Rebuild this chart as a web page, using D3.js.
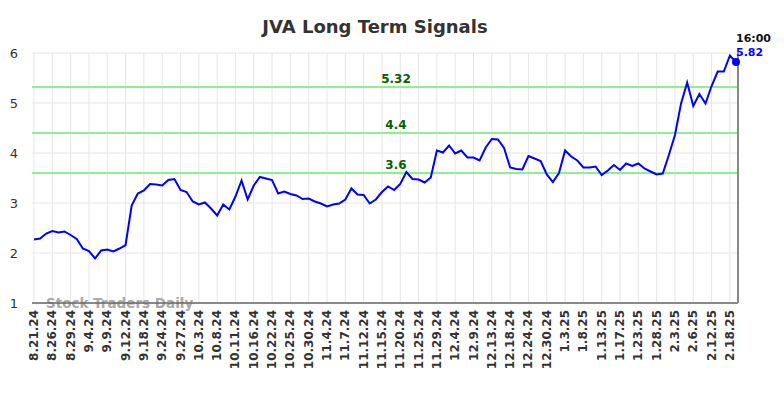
<!DOCTYPE html>
<html lang="en">

<head>
    <meta charset="UTF-8">
    <title>JVA Long Term Signals</title>
    <script src="https://d3js.org/d3.v7.min.js"></script>
    <style>
        body { margin: 0; background: #fff; }
        text { font-family: "DejaVu Sans", sans-serif; }
    </style>
</head>

<body>
    <svg class="chart" width="784" height="398"></svg>

    <script>
        // closing prices, one per trading day from 8.21.24
        const prices = [2.27, 2.29, 2.39, 2.44, 2.41, 2.43, 2.36, 2.28, 2.09, 2.04,
            1.89, 2.05, 2.07, 2.03, 2.09, 2.16, 2.95, 3.19, 3.25, 3.38,
            3.37, 3.35, 3.46, 3.48, 3.26, 3.22, 3.03, 2.97, 3.01, 2.89,
            2.75, 2.97, 2.87, 3.13, 3.45, 3.07, 3.35, 3.52, 3.49, 3.46,
            3.19, 3.23, 3.18, 3.15, 3.08, 3.09, 3.03, 2.99, 2.93, 2.97,
            2.99, 3.07, 3.29, 3.17, 3.16, 2.99, 3.07, 3.22, 3.33, 3.26,
            3.38, 3.62, 3.48, 3.47, 3.41, 3.51, 4.05, 4.01, 4.15, 3.99,
            4.05, 3.91, 3.91, 3.85, 4.11, 4.28, 4.27, 4.10, 3.71, 3.68,
            3.67, 3.94, 3.89, 3.84, 3.57, 3.42, 3.60, 4.05, 3.93, 3.85,
            3.71, 3.71, 3.73, 3.56, 3.65, 3.76, 3.66, 3.79, 3.74, 3.79,
            3.69, 3.63, 3.57, 3.59, 3.96, 4.36, 4.99, 5.41, 4.94, 5.18,
            4.99, 5.34, 5.63, 5.63, 5.95, 5.82];

        // a label every 3rd trading day
        const tickLabels = ['8.21.24', '8.26.24', '8.29.24', '9.4.24', '9.9.24', '9.12.24', '9.18.24',
            '9.24.24', '9.27.24', '10.3.24', '10.8.24', '10.11.24', '10.16.24', '10.22.24',
            '10.25.24', '10.30.24', '11.4.24', '11.7.24', '11.12.24', '11.15.24', '11.20.24',
            '11.25.24', '11.29.24', '12.4.24', '12.9.24', '12.13.24', '12.18.24', '12.24.24',
            '12.30.24', '1.3.25', '1.8.25', '1.13.25', '1.17.25', '1.23.25', '1.28.25',
            '2.3.25', '2.6.25', '2.12.25', '2.18.25'];
        const tickStep = 3;

        const signalLevels = [5.32, 4.4, 3.6];
        const yTicks = [1, 2, 3, 4, 5, 6];
        const lastTime = '16:00';

        const svg = d3.select('.chart');
        const plotLeft = 32, plotRight = 738, plotTop = 53, plotBottom = 303;

        const xScale = d3.scaleLinear()
            .domain([0, prices.length - 1])
            .range([plotLeft + 2, plotRight - 2]);
        const yScale = d3.scaleLinear()
            .domain([1, 6])
            .range([plotBottom, plotTop]);

        // title
        svg.append('text')
            .attr('x', 375).attr('y', 33)
            .attr('text-anchor', 'middle')
            .attr('font-size', 18).attr('font-weight', 'bold')
            .attr('fill', '#333')
            .text('JVA Long Term Signals');

        // grid
        const tickIdx = tickLabels.map((d, i) => i * tickStep);
        svg.append('g').selectAll('line')
            .data(tickIdx)
            .join('line')
            .attr('x1', d => xScale(d)).attr('x2', d => xScale(d))
            .attr('y1', plotTop).attr('y2', plotBottom)
            .attr('stroke', '#e6e6e6').attr('stroke-width', 1);
        svg.append('g').selectAll('line')
            .data(yTicks)
            .join('line')
            .attr('x1', plotLeft).attr('x2', plotRight)
            .attr('y1', d => yScale(d)).attr('y2', d => yScale(d))
            .attr('stroke', '#e6e6e6').attr('stroke-width', 1);

        // y labels
        svg.append('g').selectAll('text')
            .data(yTicks)
            .join('text')
            .attr('x', 14).attr('y', d => yScale(d) + 5)
            .attr('text-anchor', 'middle')
            .attr('font-size', 13).attr('fill', '#333')
            .text(d => d);

        // x labels
        svg.append('g').selectAll('text')
            .data(tickLabels)
            .join('text')
            .attr('transform', (d, i) => `translate(${xScale(i * tickStep) + 4}, 310) rotate(-90)`)
            .attr('text-anchor', 'end')
            .attr('font-size', 12).attr('font-weight', 'bold')
            .attr('fill', '#333')
            .text(d => d);

        // signal levels
        svg.append('g').selectAll('line')
            .data(signalLevels)
            .join('line')
            .attr('x1', plotLeft).attr('x2', plotRight)
            .attr('y1', d => yScale(d)).attr('y2', d => yScale(d))
            .attr('stroke', '#90ee90').attr('stroke-width', 2);
        svg.append('g').selectAll('text')
            .data(signalLevels)
            .join('text')
            .attr('x', 396).attr('y', d => yScale(d) - 4)
            .attr('text-anchor', 'middle')
            .attr('font-size', 12).attr('font-weight', 'bold')
            .attr('fill', '#006400')
            .text(d => d);

        // watermark
        svg.append('text')
            .attr('x', 46).attr('y', 308)
            .attr('font-size', 13.5).attr('font-weight', 'bold')
            .attr('fill', '#aaa')
            .text('Stock Traders Daily');

        // axes frame
        svg.append('line')
            .attr('x1', plotLeft).attr('x2', plotRight)
            .attr('y1', plotBottom).attr('y2', plotBottom)
            .attr('stroke', '#666').attr('stroke-width', 1.5);
        svg.append('line')
            .attr('x1', plotRight).attr('x2', plotRight)
            .attr('y1', plotTop).attr('y2', plotBottom)
            .attr('stroke', '#888').attr('stroke-width', 2);

        // price line
        const line = d3.line()
            .x((d, i) => xScale(i))
            .y(d => yScale(d));
        svg.append('path')
            .datum(prices)
            .attr('d', line)
            .attr('fill', 'none')
            .attr('stroke', '#0000ff').attr('stroke-width', 2);

        // last point
        const lastI = prices.length - 1;
        svg.append('circle')
            .attr('cx', xScale(lastI)).attr('cy', yScale(prices[lastI]))
            .attr('r', 4).attr('fill', '#0000ff');
        svg.append('text')
            .attr('x', xScale(lastI)).attr('y', 42)
            .attr('font-size', 11).attr('font-weight', 'bold')
            .attr('fill', '#111')
            .text(lastTime);
        svg.append('text')
            .attr('x', xScale(lastI)).attr('y', 56)
            .attr('font-size', 11).attr('font-weight', 'bold')
            .attr('fill', '#0000ff')
            .text(prices[lastI].toFixed(2));
    </script>
</body>

</html>
